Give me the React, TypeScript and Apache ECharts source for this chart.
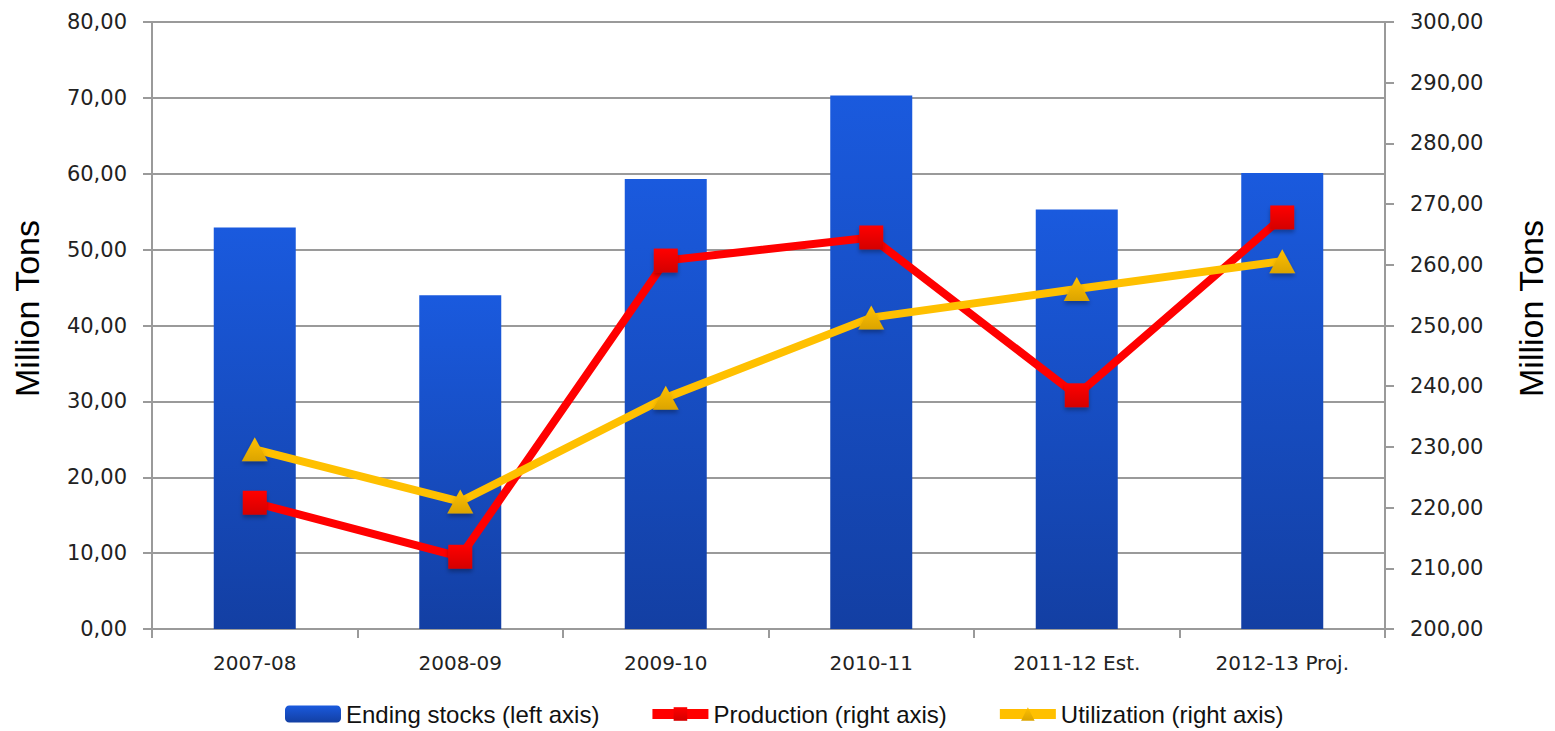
import React, { useEffect, useRef } from "react";
import * as echarts from "echarts";

const categories = ["2007-08", "2008-09", "2009-10", "2010-11", "2011-12 Est.", "2012-13 Proj."];
const endingStocks = [52.9, 44.0, 59.3, 70.3, 55.3, 60.1];
const production = [220.8, 211.9, 260.7, 264.5, 238.5, 267.8];
const utilization = [229.6, 221.0, 238.1, 251.3, 256.0, 260.6];

const fmt = (v: number) => v.toFixed(2).replace(".", ",");

export default function App() {
  const ref = useRef<HTMLDivElement>(null);
  useEffect(() => {
    document.body.style.margin = "0";
    const chart = echarts.init(ref.current!, null, { renderer: "svg" });
    const labelFont = "'DejaVu Sans', Verdana, sans-serif";
    const nameStyle = {
      fontFamily: "'Liberation Sans', Arial, sans-serif",
      fontSize: 34,
      color: "#000",
      padding: [0, 0, 0, 34],
    };
    chart.setOption({
      animation: false,
      backgroundColor: "#ffffff",
      grid: { left: 152, right: 170, top: 22, bottom: 102, containLabel: false, outerBoundsMode: "none" },
      legend: {
        bottom: 0,
        left: 280,
        itemWidth: 56,
        itemHeight: 17,
        itemGap: 48,
        lineStyle: { width: 10 },
        textStyle: { fontFamily: "'Liberation Sans', Arial, sans-serif", fontSize: 24, color: "#111" },
        data: ["Ending stocks (left axis)", "Production (right axis)", "Utilization (right axis)"],
      },
      xAxis: {
        type: "category",
        data: categories,
        axisLine: { lineStyle: { color: "#9a9a9a", width: 2 } },
        axisTick: { show: true, length: 9, lineStyle: { color: "#9a9a9a", width: 2 } },
        axisLabel: { fontFamily: labelFont, fontSize: 20, color: "#222", margin: 24 },
      },
      yAxis: [
        {
          type: "value",
          min: 0,
          max: 80,
          interval: 10,
          name: "Million Tons",
          nameLocation: "middle",
          nameGap: 108,
          nameTextStyle: nameStyle,
          axisLine: { show: true, lineStyle: { color: "#9a9a9a", width: 2 } },
          axisTick: { show: true, length: 9, lineStyle: { color: "#9a9a9a", width: 2 } },
          axisLabel: { fontFamily: labelFont, fontSize: 21, color: "#222", margin: 25, formatter: fmt },
          splitLine: { show: true, lineStyle: { color: "#9a9a9a", width: 2 } },
        },
        {
          type: "value",
          min: 200,
          max: 300,
          interval: 10,
          name: "Million Tons",
          nameLocation: "middle",
          nameGap: 129,
          nameRotate: 90,
          nameTextStyle: nameStyle,
          axisLine: { show: true, lineStyle: { color: "#9a9a9a", width: 2 } },
          axisTick: { show: true, length: 9, lineStyle: { color: "#9a9a9a", width: 2 } },
          axisLabel: { fontFamily: labelFont, fontSize: 21, color: "#222", margin: 25, formatter: fmt },
          splitLine: { show: false },
        },
      ],
      series: [
        {
          name: "Ending stocks (left axis)",
          type: "bar",
          yAxisIndex: 0,
          barWidth: 82,
          data: endingStocks,
          itemStyle: {
            color: new echarts.graphic.LinearGradient(0, 0, 0, 1, [
              { offset: 0, color: "#1a5ade" },
              { offset: 1, color: "#133fa3" },
            ]),
          },
        },
        {
          name: "Production (right axis)",
          type: "line",
          yAxisIndex: 1,
          data: production,
          symbol: "rect",
          symbolSize: 24,
          lineStyle: { color: "#ff0000", width: 8 },
          itemStyle: {
            color: new echarts.graphic.LinearGradient(0, 0, 0, 1, [
              { offset: 0, color: "#ff0000" },
              { offset: 1, color: "#d40000" },
            ]),
            shadowColor: "rgba(0,0,0,0.3)",
            shadowBlur: 4,
            shadowOffsetY: 3,
          },
          z: 3,
        },
        {
          name: "Utilization (right axis)",
          type: "line",
          yAxisIndex: 1,
          data: utilization,
          symbol: "triangle",
          symbolSize: [26, 24],
          lineStyle: { color: "#ffc000", width: 8 },
          itemStyle: {
            color: new echarts.graphic.LinearGradient(0, 0, 0, 1, [
              { offset: 0, color: "#ffc000" },
              { offset: 1, color: "#dba400" },
            ]),
            shadowColor: "rgba(0,0,0,0.3)",
            shadowBlur: 4,
            shadowOffsetY: 3,
          },
          z: 4,
        },
      ],
    });
    return () => chart.dispose();
  }, []);
  return <div ref={ref} style={{ width: 1555, height: 731 }} />;
}
